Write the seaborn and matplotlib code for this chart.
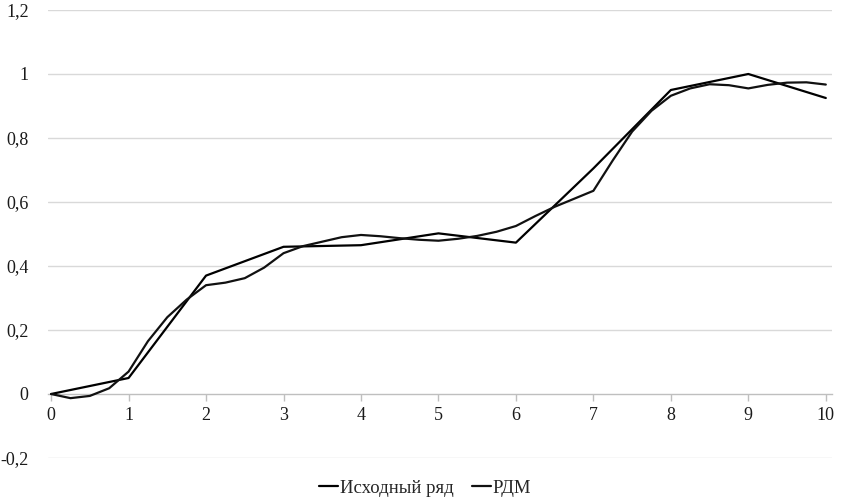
import matplotlib
matplotlib.use("Agg")
import matplotlib.pyplot as plt
import seaborn as sns
import pandas as pd

# Data
orig_t = [0, 1, 2, 3, 4, 5, 6, 7, 8, 9, 10]
orig_v = [0.0, 0.05, 0.37, 0.46, 0.465, 0.502, 0.473, 0.705, 0.95, 1.0, 0.925]

rdm_t = [0, 0.25, 0.5, 0.75, 1.0, 1.25, 1.5, 1.75, 2.0, 2.25, 2.5, 2.75, 3.0,
         3.25, 3.5, 3.75, 4.0, 4.25, 4.5, 4.75, 5.0, 5.25, 5.5, 5.75, 6.0,
         6.25, 6.5, 6.75, 7.0, 7.25, 7.5, 7.75, 8.0, 8.25, 8.5, 8.75, 9.0,
         9.25, 9.5, 9.75, 10.0]
rdm_v = [0.0, -0.013, -0.006, 0.018, 0.07, 0.165, 0.24, 0.295, 0.34, 0.348,
         0.362, 0.395, 0.44, 0.462, 0.476, 0.49, 0.497, 0.493, 0.487, 0.482,
         0.479, 0.485, 0.494, 0.507, 0.525, 0.556, 0.585, 0.61, 0.635, 0.73,
         0.82, 0.885, 0.932, 0.955, 0.968, 0.965, 0.955, 0.966, 0.973, 0.974,
         0.967]

y_ticks = [-0.2, 0, 0.2, 0.4, 0.6, 0.8, 1.0, 1.2]
y_labels = ["-0,2", "0", "0,2", "0,4", "0,6", "0,8", "1", "1,2"]
x_ticks = list(range(0, 11))
x_labels = [str(i) for i in x_ticks]

series_names = ["Исходный ряд", "РДМ"]

sns.set_style("white")
plt.rcParams['font.family'] = ['Liberation Serif', 'DejaVu Serif']

fig = plt.figure(figsize=(8.43, 5.04), dpi=100)
ax = fig.add_axes([48 / 843, 46 / 504, (832 - 48) / 843, (458 - 10) / 504])

df_o = pd.DataFrame({"t": orig_t, "v": orig_v})
df_r = pd.DataFrame({"t": rdm_t, "v": rdm_v})

sns.lineplot(data=df_o, x="t", y="v", ax=ax, color="#000000", linewidth=1.6,
             label=series_names[0], sort=False)
sns.lineplot(data=df_r, x="t", y="v", ax=ax, color="#111111", linewidth=1.6,
             label=series_names[1], sort=False)

ax.set_xlim(-0.04, 10.08)
ax.set_ylim(-0.2, 1.2)
ax.set_yticks(y_ticks)
ax.set_yticklabels(y_labels)
ax.set_xticks(x_ticks)
ax.set_xticklabels(x_labels)
ax.set_xlabel("")
ax.set_ylabel("")

for y in y_ticks:
    if y != 0:
        ax.axhline(y, color="#d9d9d9", linewidth=1.0, zorder=0)

for s in ["top", "right", "left"]:
    ax.spines[s].set_visible(False)
ax.spines["bottom"].set_position(("data", 0))
ax.spines["bottom"].set_color("#bfbfbf")
ax.spines["bottom"].set_linewidth(1.0)
ax.spines["bottom"].set_zorder(0)

ax.tick_params(axis="x", direction="out", length=5, width=1.0, color="#bfbfbf",
               labelsize=13, pad=4, bottom=True)
ax.tick_params(axis="y", length=0, labelsize=13, pad=14)
for lab in ax.get_xticklabels() + ax.get_yticklabels():
    lab.set_color("#1a1a1a")

ax.get_legend().remove()
handles, labels = ax.get_legend_handles_labels()
fig.legend(handles, labels, loc="center", bbox_to_anchor=(425 / 843, 1 - 488 / 504),
           ncol=2, frameon=False, fontsize=13.5, handlelength=1.0, handletextpad=0.1,
           columnspacing=1.0)

fig.savefig("out.png", dpi=100)
